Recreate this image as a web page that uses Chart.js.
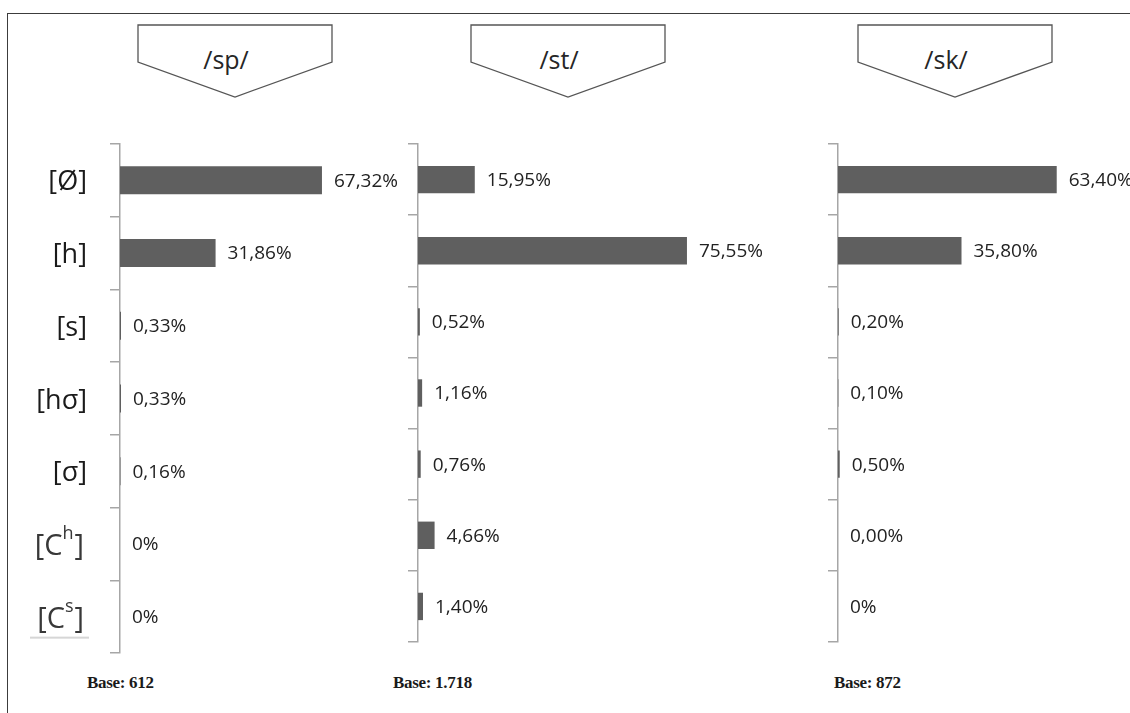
<!DOCTYPE html>
<html>
<head>
<meta charset="utf-8">
<script src="https://cdn.jsdelivr.net/npm/chart.js@4.4.1/dist/chart.umd.min.js"></script>
<style>
    body { margin: 0; width: 1130px; height: 713px; overflow: hidden; background: #fff; position: relative; }
    .frame { position: absolute; left: 7px; top: 13px; width: 1300px; height: 800px; border-top: 1px solid #3c3c3c; border-left: 1px solid #3c3c3c; }
    .holder { position: absolute; }
    .base { position: absolute; top: 673px; font: bold 17px "Liberation Serif", serif; color: #1a1a1a; white-space: nowrap; letter-spacing: -0.3px; }
    svg.heads { position: absolute; left: 0; top: 0; }
</style>
</head>
<body>
<div class="frame"></div>
<svg class="heads" width="1130" height="120" id="heads"></svg>

<div class="holder" style="left:0px;top:140px"><canvas id="spChart" width="420" height="517"></canvas></div>
<div class="holder" style="left:400px;top:140px"><canvas id="stChart" width="374" height="506"></canvas></div>
<div class="holder" style="left:820px;top:140px"><canvas id="skChart" width="363" height="506"></canvas></div>

<div class="base" style="left:87px">Base: 612</div>
<div class="base" style="left:393px">Base: 1.718</div>
<div class="base" style="left:834px">Base: 872</div>

<script>
const categories = ['[Ø]', '[h]', '[s]', '[hσ]', '[σ]', '[Ch]', '[Cs]'];

const spValues = [67.32, 31.86, 0.33, 0.33, 0.16, 0, 0];
const stValues = [15.95, 75.55, 0.52, 1.16, 0.76, 4.66, 1.40];
const skValues = [63.40, 35.80, 0.20, 0.10, 0.50, 0.00, 0];

const spLabels = ['67,32%', '31,86%', '0,33%', '0,33%', '0,16%', '0%', '0%'];
const stLabels = ['15,95%', '75,55%', '0,52%', '1,16%', '0,76%', '4,66%', '1,40%'];
const skLabels = ['63,40%', '35,80%', '0,20%', '0,10%', '0,50%', '0,00%', '0%'];

const headers = ['/sp/', '/st/', '/sk/'];

// header arrows
const headLeft = [138, 471, 858];
const svg = document.getElementById('heads');
headers.forEach((txt, i) => {
    const l = headLeft[i], r = l + 194, mid = (l + r) / 2;
    const poly = document.createElementNS('http://www.w3.org/2000/svg', 'polygon');
    poly.setAttribute('points', `${l},25 ${r},25 ${r},62 ${mid},97 ${l},62`);
    poly.setAttribute('fill', '#fff');
    poly.setAttribute('stroke', '#555');
    poly.setAttribute('stroke-width', '1.3');
    svg.appendChild(poly);
    const t = document.createElementNS('http://www.w3.org/2000/svg', 'text');
    t.setAttribute('x', mid - 9);
    t.setAttribute('y', 69);
    t.setAttribute('text-anchor', 'middle');
    t.setAttribute('font-family', 'Open Sans');
    t.setAttribute('font-size', '25');
    t.setAttribute('fill', '#262626');
    t.textContent = txt;
    svg.appendChild(t);
});

const valueLabels = {
    id: 'valueLabels',
    afterDatasetsDraw(chart) {
        const ctx = chart.ctx;
        const texts = chart.options.plugins.valueLabels.texts;
        const meta = chart.getDatasetMeta(0);
        ctx.save();
        ctx.font = '19px "Open Sans"';
        ctx.fillStyle = '#222';
        ctx.textBaseline = 'middle';
        ctx.textAlign = 'left';
        meta.data.forEach((bar, i) => {
            ctx.fillText(texts[i], bar.x + 12, bar.y + 1);
        });
        ctx.restore();
    }
};

const rowLabels = {
    id: 'rowLabels',
    afterDraw(chart) {
        if (!chart.options.plugins.rowLabels.show) return;
        const ctx = chart.ctx;
        const yScale = chart.scales.y;
        const right = yScale.left - 23;
        ctx.save();
        ctx.textBaseline = 'alphabetic';
        ctx.textAlign = 'left';
        categories.forEach((cat, i) => {
            const y = yScale.getPixelForValue(i);
            if (cat.startsWith('[C')) {
                const sup = cat.charAt(2);
                const cRight = right - 5;
                ctx.font = '29px "Open Sans"';
                const wOpen = ctx.measureText('[C').width;
                const wClose = ctx.measureText(']').width;
                ctx.font = '18px "Open Sans"';
                const wSup = ctx.measureText(sup).width;
                let x = cRight - wOpen - wSup - wClose + 1;
                ctx.fillStyle = '#383838';
                ctx.font = '29px "Open Sans"';
                ctx.fillText('[C', x, y + 11);
                x += wOpen;
                ctx.font = '18px "Open Sans"';
                ctx.fillText(sup, x, y - 5);
                x += wSup + 1;
                ctx.font = '29px "Open Sans"';
                ctx.fillText(']', x, y + 11);
                if (i === categories.length - 1) {
                    ctx.fillStyle = '#d6d6d6';
                    ctx.fillRect(30, y + 20, 59, 2);
                }
            } else {
                ctx.fillStyle = '#1a1a1a';
                ctx.font = '27px "Open Sans"';
                ctx.textAlign = 'right';
                ctx.fillText(cat, right, y + 10);
                ctx.textAlign = 'left';
            }
        });
        ctx.restore();
    }
};

function makeChart(id, values, texts, padLeft, showRows) {
    return new Chart(document.getElementById(id), {
        type: 'bar',
        data: {
            labels: categories,
            datasets: [{
                data: values,
                backgroundColor: '#5f5f5f',
                barPercentage: 0.77,
                categoryPercentage: 0.5
            }]
        },
        options: {
            indexAxis: 'y',
            responsive: false,
            animation: false,
            layout: { padding: { left: padLeft, top: 4, bottom: 4, right: 0 } },
            plugins: {
                legend: { display: false },
                tooltip: { enabled: false },
                valueLabels: { texts: texts },
                rowLabels: { show: showRows }
            },
            scales: {
                x: { display: false, min: 0, max: 100 },
                y: {
                    grid: {
                        display: true,
                        drawOnChartArea: false,
                        drawTicks: true,
                        tickLength: 10,
                        offset: true,
                        color: '#a6a6a6',
                        lineWidth: 1.5
                    },
                    border: { display: true, color: '#a6a6a6', width: 1.5 },
                    ticks: { display: false }
                }
            }
        },
        plugins: [valueLabels, rowLabels]
    });
}

makeChart('spChart', spValues, spLabels, 110, true);
makeChart('stChart', stValues, stLabels, 8, false);
makeChart('skChart', skValues, skLabels, 8, false);
</script>
</body>
</html>
